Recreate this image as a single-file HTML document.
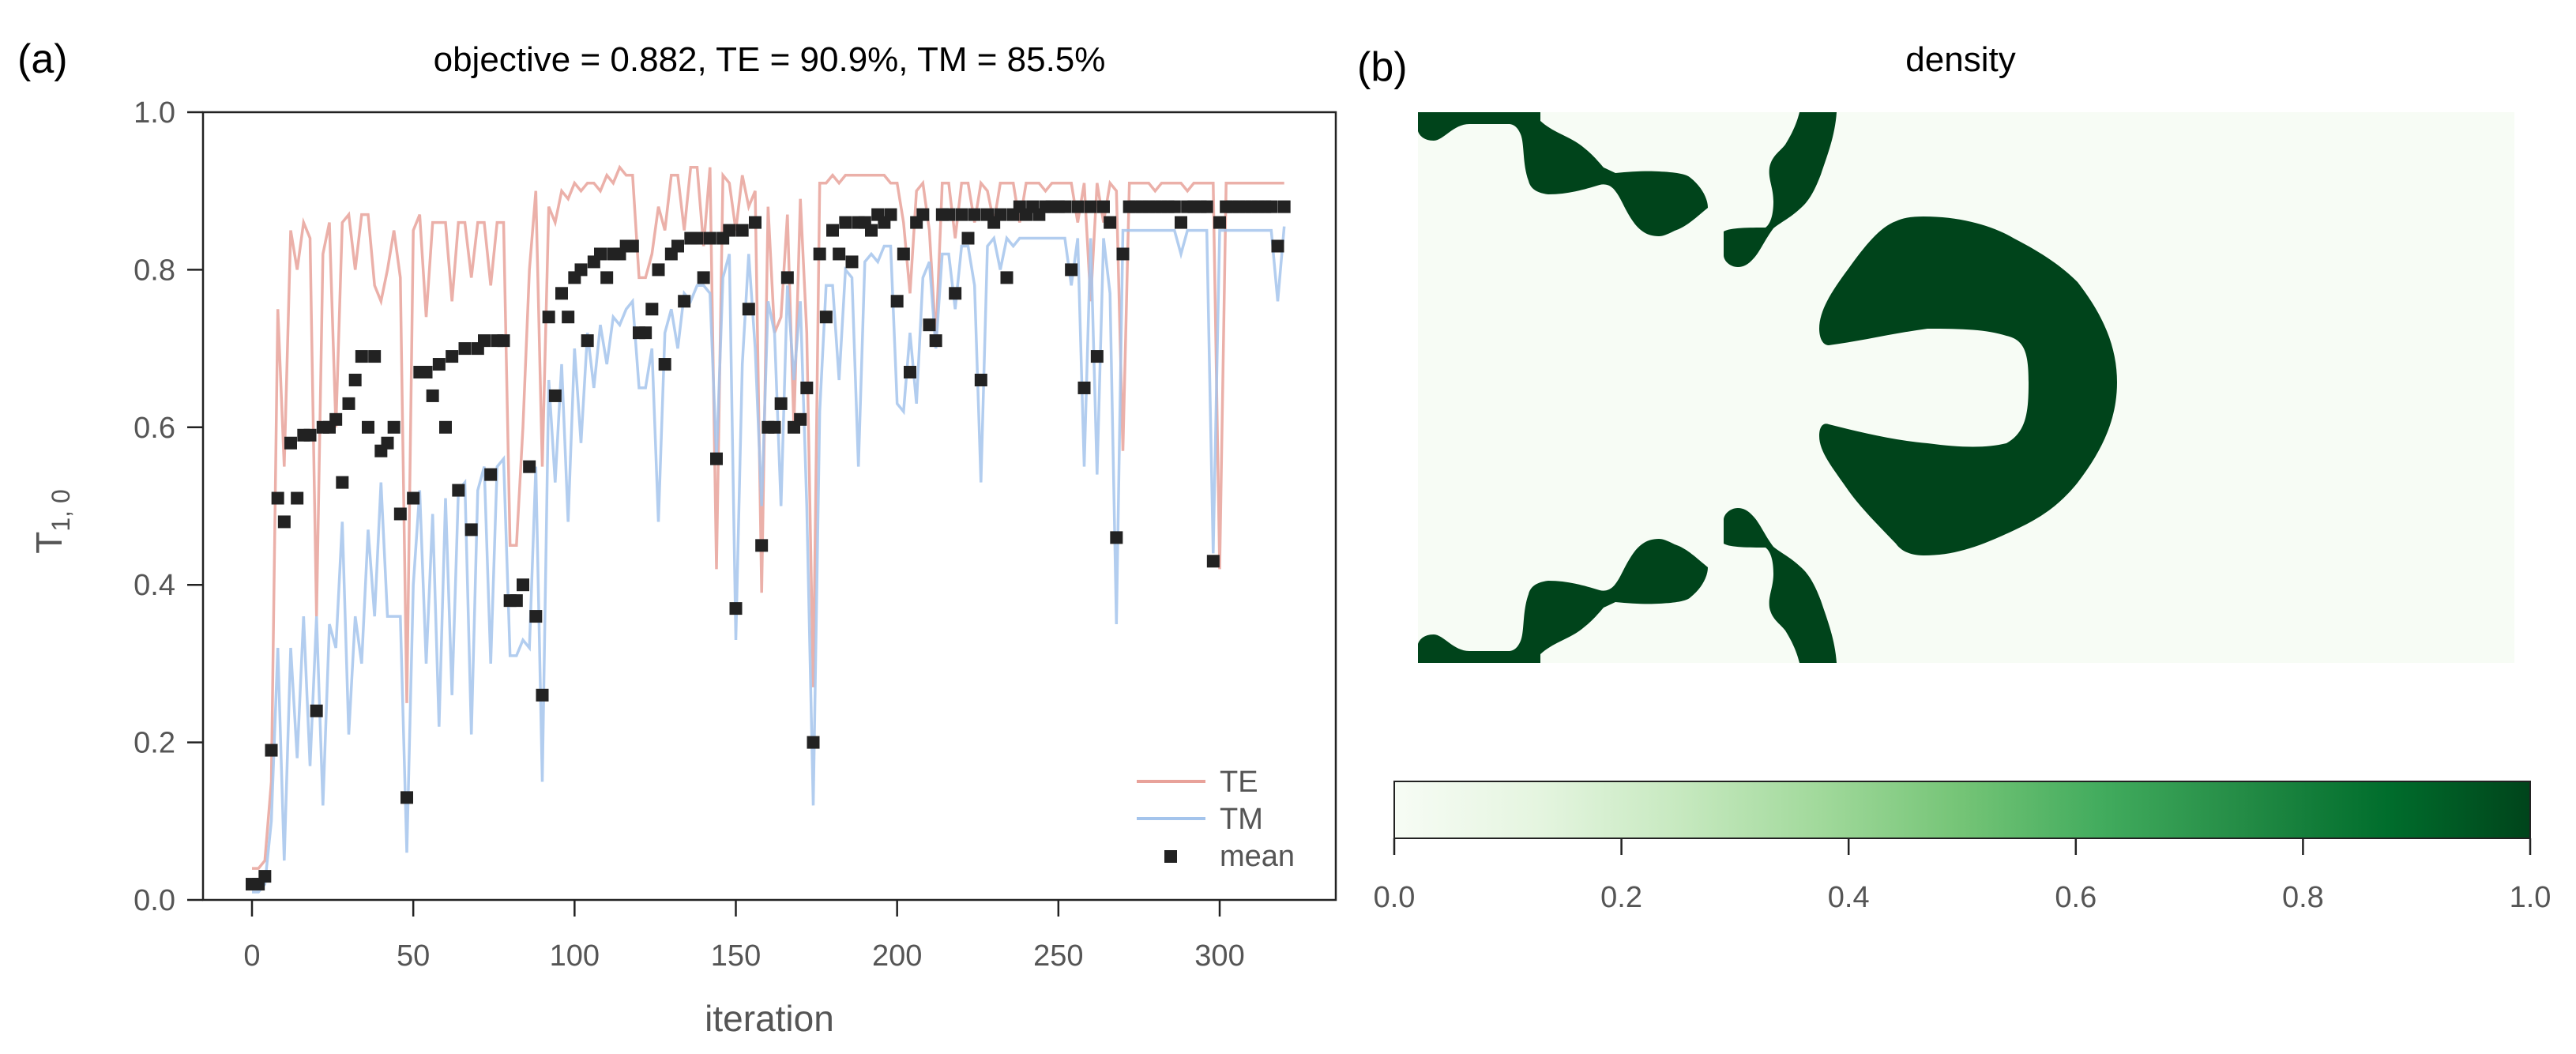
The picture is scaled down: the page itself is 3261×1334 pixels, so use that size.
<!DOCTYPE html>
<html><head><meta charset="utf-8"><style>
body{margin:0;background:#fff;}
svg text{font-family:"Liberation Sans","DejaVu Sans",sans-serif;}
</style></head><body>
<svg id="fig" width="3261" height="1329" viewBox="0 0 3261 1329" xmlns="http://www.w3.org/2000/svg">
<defs>
<linearGradient id="greens" x1="0" x2="1" y1="0" y2="0">
<stop offset="0" stop-color="#f7fcf5"/><stop offset="0.125" stop-color="#e5f5e0"/><stop offset="0.25" stop-color="#c7e9c0"/><stop offset="0.375" stop-color="#a1d99b"/><stop offset="0.5" stop-color="#74c476"/><stop offset="0.625" stop-color="#41ab5d"/><stop offset="0.75" stop-color="#238b45"/><stop offset="0.875" stop-color="#006d2c"/><stop offset="1" stop-color="#00441b"/>
</linearGradient>
</defs>
<text x="22" y="92" font-size="52" fill="#000">(a)</text>
<text x="974" y="90" font-size="44" text-anchor="middle" fill="#000">objective = 0.882, TE = 90.9%, TM = 85.5%</text>
<g id="plot"></g>
<rect x="257" y="142" width="1434" height="997" fill="none" stroke="#222" stroke-width="2.5"/>
<text x="974" y="1305" font-size="46" text-anchor="middle" fill="#555">iteration</text>
<text transform="translate(78,660) rotate(-90)" font-size="46" text-anchor="middle" fill="#555">T<tspan font-size="32" dy="10">1, 0</tspan></text>
<g>
<line x1="1439" y1="989" x2="1526" y2="989" stroke="#e8a29a" stroke-width="4"/>
<text x="1544" y="1002" font-size="38" fill="#555">TE</text>
<line x1="1439" y1="1036" x2="1526" y2="1036" stroke="#a4c4ec" stroke-width="4"/>
<text x="1544" y="1049" font-size="38" fill="#555">TM</text>
<rect x="1474" y="1076" width="16" height="16" fill="#222"/>
<text x="1544" y="1096" font-size="38" fill="#555">mean</text>
</g>

<text x="1718" y="102" font-size="52" fill="#000">(b)</text>
<text x="2482" y="90" font-size="44" text-anchor="middle" fill="#000">density</text>
<g transform="translate(1795,142)">
<rect x="0" y="0" width="1388" height="697" fill="#f7fcf5"/>
<path fill="#00441b" d="M640,132 C690,132 730,145 755,160 C790,178 815,195 835,215 C870,260 885,300 885,342 C885,390 865,430 835,469 C810,500 785,515 755,529 C710,550 680,561 640,561 C620,561 610,553 605,546 C580,520 560,500 545,479 C525,450 508,430 508,410 C508,395 515,393 520,395 C560,405 600,415 645,419 C690,425 720,425 745,419 C770,405 773,380 773,342 C773,305 768,288 745,283 C720,275 690,274 645,274 C600,280 560,290 520,295 C512,295 508,285 508,274 C508,250 525,225 545,198 C565,170 585,145 605,138 C615,133 628,132 640,132 Z"/>
<path id="tl" fill="#00441b" d="M0,0 L155,0 L155,11 C170,25 190,30 205,41 C220,52 228,62 235,70 L250,77 C270,75 290,74 305,75 C325,76 340,78 345,83 C360,95 367,110 367,121 C350,135 340,145 325,150 C315,155 310,157 305,157 C290,157 282,150 275,142 C262,125 258,110 250,100 C245,93 238,90 230,92 C210,98 190,104 165,104 C148,102 142,95 140,87 C132,65 135,40 130,28 C126,18 120,15 115,15 L65,15 C45,15 32,36 20,36 C8,36 2,30 0,24 Z"/>
<path id="tc" fill="#00441b" d="M483,0 L530,0 C528,30 518,55 510,79 C502,100 495,112 485,121 C470,135 458,140 450,147 C440,160 432,178 425,185 C418,193 412,196 405,196 C395,196 387,188 387,181 L387,151 C395,146 420,146 440,146 C448,140 450,125 450,113 C450,95 443,85 445,70 C448,55 458,50 465,41 C475,25 480,12 483,0 Z"/>
<use href="#tl" transform="translate(0,697) scale(1,-1)"/>
<use href="#tc" transform="translate(0,697) scale(1,-1)"/>
</g>
<g>
<rect x="1765" y="989" width="1438" height="72" fill="url(#greens)" stroke="#222" stroke-width="2"/>
<g id="cbticks"></g>
</g>
</svg>
<script>
// ---- data ----
const iterations = [];
for (let i = 0; i <= 320; i += 2) iterations.push(i);
const teValues = [0.04,0.04,0.05,0.15,0.75,0.55,0.85,0.80,0.86,0.84,0.36,0.82,0.86,0.60,0.86,0.87,0.80,0.87,0.87,0.78,0.76,0.80,0.85,0.79,0.25,0.85,0.87,0.74,0.86,0.86,0.86,0.76,0.86,0.86,0.79,0.86,0.86,0.78,0.86,0.86,0.45,0.45,0.60,0.80,0.90,0.55,0.88,0.86,0.90,0.89,0.91,0.90,0.91,0.91,0.90,0.92,0.91,0.93,0.92,0.92,0.79,0.79,0.82,0.88,0.85,0.92,0.92,0.85,0.93,0.93,0.83,0.93,0.42,0.92,0.91,0.85,0.92,0.88,0.90,0.39,0.88,0.72,0.74,0.87,0.60,0.89,0.72,0.27,0.91,0.91,0.92,0.91,0.92,0.92,0.92,0.92,0.92,0.92,0.92,0.91,0.91,0.86,0.77,0.90,0.91,0.85,0.71,0.91,0.91,0.84,0.91,0.91,0.86,0.91,0.90,0.86,0.91,0.91,0.91,0.86,0.91,0.91,0.91,0.90,0.91,0.91,0.91,0.91,0.86,0.91,0.76,0.91,0.86,0.91,0.90,0.57,0.91,0.91,0.91,0.91,0.90,0.91,0.91,0.91,0.91,0.90,0.91,0.91,0.91,0.91,0.42,0.91,0.91,0.91,0.91,0.91,0.91,0.91,0.91,0.91,0.91];
const tmValues = [0.01,0.01,0.02,0.10,0.32,0.05,0.32,0.18,0.36,0.17,0.36,0.12,0.35,0.32,0.48,0.21,0.36,0.30,0.47,0.36,0.53,0.36,0.36,0.36,0.06,0.40,0.52,0.30,0.49,0.22,0.51,0.26,0.52,0.53,0.21,0.52,0.55,0.30,0.55,0.56,0.31,0.31,0.33,0.32,0.55,0.15,0.66,0.53,0.68,0.48,0.70,0.58,0.72,0.65,0.73,0.68,0.74,0.73,0.75,0.76,0.65,0.65,0.70,0.48,0.72,0.75,0.70,0.77,0.76,0.78,0.78,0.77,0.56,0.79,0.82,0.33,0.68,0.82,0.70,0.50,0.76,0.72,0.50,0.78,0.66,0.76,0.50,0.12,0.62,0.78,0.78,0.66,0.80,0.79,0.55,0.81,0.82,0.81,0.83,0.83,0.63,0.62,0.72,0.63,0.79,0.81,0.70,0.82,0.82,0.75,0.83,0.83,0.78,0.53,0.83,0.84,0.80,0.84,0.83,0.84,0.84,0.84,0.84,0.84,0.84,0.84,0.84,0.78,0.84,0.55,0.84,0.54,0.84,0.77,0.35,0.85,0.85,0.85,0.85,0.85,0.85,0.85,0.85,0.85,0.82,0.85,0.85,0.85,0.85,0.44,0.85,0.85,0.85,0.85,0.85,0.85,0.85,0.85,0.85,0.76,0.855];
const meanValues = [0.02,0.02,0.03,0.19,0.51,0.48,0.58,0.51,0.59,0.59,0.24,0.60,0.60,0.61,0.53,0.63,0.66,0.69,0.60,0.69,0.57,0.58,0.60,0.49,0.13,0.51,0.67,0.67,0.64,0.68,0.60,0.69,0.52,0.70,0.47,0.70,0.71,0.54,0.71,0.71,0.38,0.38,0.40,0.55,0.36,0.26,0.74,0.64,0.77,0.74,0.79,0.80,0.71,0.81,0.82,0.79,0.82,0.82,0.83,0.83,0.72,0.72,0.75,0.80,0.68,0.82,0.83,0.76,0.84,0.84,0.79,0.84,0.56,0.84,0.85,0.37,0.85,0.75,0.86,0.45,0.60,0.60,0.63,0.79,0.60,0.61,0.65,0.20,0.82,0.74,0.85,0.82,0.86,0.81,0.86,0.86,0.85,0.87,0.86,0.87,0.76,0.82,0.67,0.86,0.87,0.73,0.71,0.87,0.87,0.77,0.87,0.84,0.87,0.66,0.87,0.86,0.87,0.79,0.87,0.88,0.87,0.88,0.87,0.88,0.88,0.88,0.88,0.80,0.88,0.65,0.88,0.69,0.88,0.86,0.46,0.82,0.88,0.88,0.88,0.88,0.88,0.88,0.88,0.88,0.86,0.88,0.88,0.88,0.88,0.43,0.86,0.88,0.88,0.88,0.88,0.88,0.88,0.88,0.88,0.83,0.88];
const xTicks = [0,50,100,150,200,250,300];
const yTicks = [0.0,0.2,0.4,0.6,0.8,1.0];
const yTickLabels = ["0.0","0.2","0.4","0.6","0.8","1.0"];
const cbTicks = [0.0,0.2,0.4,0.6,0.8,1.0];
const cbTickLabels = ["0.0","0.2","0.4","0.6","0.8","1.0"];

// ---- axes ----
const NS = "http://www.w3.org/2000/svg";
const xScale = v => 319 + v * (1544 - 319) / 300;
const yScale = v => 1139 - v * (1139 - 142);
const cbScale = v => 1765 + v * 1438;
const plot = document.getElementById('plot');
function mk(tag, attrs, parent) {
  const el = document.createElementNS(NS, tag);
  for (const k in attrs) el.setAttribute(k, attrs[k]);
  parent.appendChild(el);
  return el;
}
xTicks.forEach(t => {
  const l = mk('line', {x1: xScale(t), x2: xScale(t), y1: 1139, y2: 1160, stroke: '#222', 'stroke-width': 2.5}, plot);
  
  
  const tx = mk('text', {x: xScale(t), y: 1222, 'font-size': 38, 'text-anchor': 'middle', fill: '#555'}, plot);
  tx.textContent = String(t);
  
  
});
yTicks.forEach((t, i) => {
  const l = mk('line', {x1: 237, x2: 257, y1: yScale(t), y2: yScale(t), stroke: '#222', 'stroke-width': 2.5}, plot);
  
  
  const tx = mk('text', {x: 222, y: yScale(t) + 13, 'font-size': 38, 'text-anchor': 'end', fill: '#555'}, plot);
  tx.textContent = yTickLabels[i];
  
  
});
function linePath(vals) {
  return vals.map((v, i) => (i ? 'L' : 'M') + xScale(iterations[i]).toFixed(1) + ',' + yScale(v).toFixed(1)).join(' ');
}
const te = mk('path', {d: linePath(teValues), fill: 'none', stroke: '#e8a29a', 'stroke-width': 3.5, 'stroke-opacity': 0.85}, plot);


const tm = mk('path', {d: linePath(tmValues), fill: 'none', stroke: '#a4c4ec', 'stroke-width': 3.5, 'stroke-opacity': 0.85}, plot);


meanValues.forEach((v, i) => {
  const r = mk('rect', {x: xScale(iterations[i]) - 8, y: yScale(v) - 8, width: 16, height: 16, fill: '#222'}, plot);
  
  
});
const cbg = document.getElementById('cbticks');
cbTicks.forEach((t, i) => {
  const l = mk('line', {x1: cbScale(t), x2: cbScale(t), y1: 1061, y2: 1082, stroke: '#222', 'stroke-width': 2.5}, cbg);
  
  
  const tx = mk('text', {x: cbScale(t), y: 1148, 'font-size': 38, 'text-anchor': 'middle', fill: '#555'}, cbg);
  tx.textContent = cbTickLabels[i];
  
  
});
</script>
</body></html>
